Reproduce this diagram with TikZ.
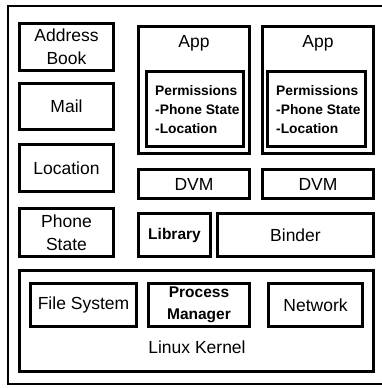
\documentclass[tikz,border=0pt]{standalone}
\usepackage{fontspec}
\setmainfont{Liberation Sans}
\begin{document}
\begin{tikzpicture}[x=1pt,y=-1pt,
  box/.style={draw=black, line width=2.6pt, rectangle, inner sep=0pt, outer sep=0pt},
  lbl/.style={font=\fontsize{17.5}{23}\selectfont, align=center, inner sep=0pt},
  blbl/.style={font=\fontsize{15.5}{22}\selectfont\bfseries, align=center, inner sep=0pt},
  plbl/.style={font=\fontsize{13.8}{19}\selectfont\bfseries, align=left, inner sep=0pt, anchor=west}]
\useasboundingbox (0,0) rectangle (382,388);
\draw[line width=2.2pt] (395,6) -- (8,6) -- (8,384) -- (395,384);
% left column
\node[box, lbl, minimum width=94pt, minimum height=47pt] (addr) at (66.5,47) {Address\\Book};
\node[box, lbl, minimum width=94pt, minimum height=46pt] (mail) at (66.5,106.5) {Mail};
\node[box, lbl, minimum width=94pt, minimum height=47pt] (loc) at (66.5,168) {Location};
\node[box, lbl, minimum width=94pt, minimum height=48pt] (phone) at (66.5,232.5) {Phone\\State};
% apps
\node[box, minimum width=111pt, minimum height=127pt] (app1) at (194,90) {};
\node[lbl] (app1t) at (194,43) {App};
\node[box, minimum width=97pt, minimum height=75pt] (perm1) at (195,109) {};
\node[plbl] (perm1t) at (155,110) {Permissions\\-Phone State\\-Location};
\node[box, minimum width=111pt, minimum height=127pt] (app2) at (318,90) {};
\node[lbl] (app2t) at (318,43) {App};
\node[box, minimum width=98pt, minimum height=75pt] (perm2) at (316.5,109) {};
\node[plbl] (perm2t) at (276,110) {Permissions\\-Phone State\\-Location};
% DVMs
\node[box, lbl, minimum width=111pt, minimum height=29pt] (dvm1) at (194,184) {DVM};
\node[box, lbl, minimum width=111pt, minimum height=29pt] (dvm2) at (318,184) {DVM};
% library / binder
\node[box, blbl, minimum width=72pt, minimum height=43pt] (lib) at (174.5,235) {Library};
\node[box, lbl, minimum width=156pt, minimum height=43pt] (binder) at (295.5,235) {Binder};
% kernel
\node[box, minimum width=354pt, minimum height=101pt] (kernel) at (196.5,321) {};
\node[lbl] (kernelt) at (197,347.5) {Linux Kernel};
\node[box, lbl, minimum width=106pt, minimum height=43pt] (fs) at (83.5,305) {File System};
\node[box, blbl, minimum width=101pt, minimum height=43pt] (pm) at (199,305) {Process\\Manager};
\node[box, lbl, minimum width=94pt, minimum height=43pt] (net) at (315.5,305) {Network};
\end{tikzpicture}
\end{document}
